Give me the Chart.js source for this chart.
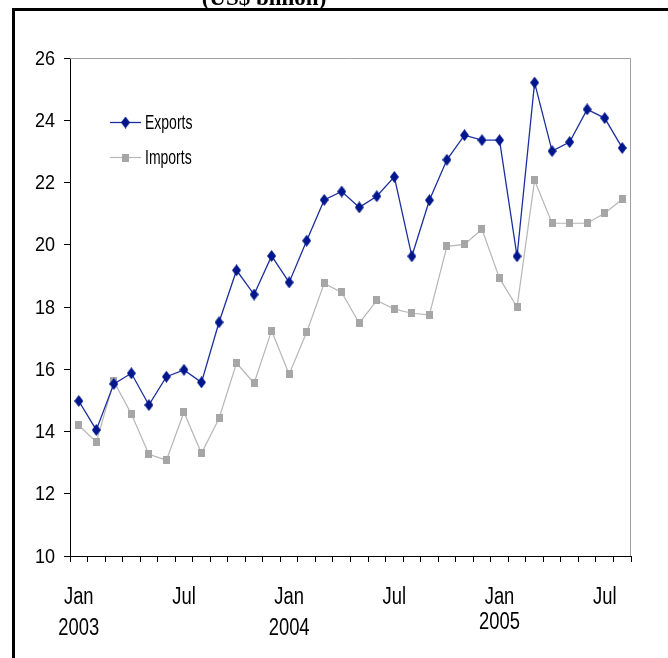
<!DOCTYPE html>
<html>
<head>
<meta charset="utf-8">
<script src="https://cdn.jsdelivr.net/npm/chart.js@4.4.1/dist/chart.umd.min.js"></script>
<style>
  html, body { margin: 0; padding: 0; background: #fff; }
  #wrap { width: 668px; height: 658px; position: relative; }
</style>
</head>
<body>
<div id="wrap"><canvas id="c" width="668" height="658"></canvas></div>
<script>
// Monthly trade, Jan 2003 – Aug 2005 (US$ billion)
const months = [
  'Jan 2003','Feb 2003','Mar 2003','Apr 2003','May 2003','Jun 2003','Jul 2003','Aug 2003',
  'Sep 2003','Oct 2003','Nov 2003','Dec 2003',
  'Jan 2004','Feb 2004','Mar 2004','Apr 2004','May 2004','Jun 2004','Jul 2004','Aug 2004',
  'Sep 2004','Oct 2004','Nov 2004','Dec 2004',
  'Jan 2005','Feb 2005','Mar 2005','Apr 2005','May 2005','Jun 2005','Jul 2005','Aug 2005'
];

const exportsVals = [
  14.98, 14.05, 15.53, 15.87, 14.85, 15.76, 15.98, 15.58,
  17.51, 19.18, 18.40, 19.64,
  18.79, 20.13, 21.44, 21.71, 21.20, 21.56, 22.18, 19.63,
  21.43, 22.73, 23.52, 23.36,
  23.36, 19.63, 25.21, 23.01, 23.30, 24.35, 24.07, 23.11
];

const importsVals = [
  14.20, 13.66, 15.61, 14.56, 13.27, 13.08, 14.62, 13.30,
  14.42, 16.20, 15.55, 17.24,
  15.84, 17.19, 18.76, 18.47, 17.48, 18.21, 17.93, 17.80,
  17.75, 19.95, 20.01, 20.50,
  18.92, 18.00, 22.07, 20.69, 20.69, 20.69, 21.01, 21.46
];

// Labels shown under the month ticks (index -> lines)
const xTickText = {
  0: ['Jan', '2003'], 6: ['Jul'],
  12: ['Jan', '2004'], 18: ['Jul'],
  24: ['Jan', '2005'], 30: ['Jul']
};
const yTicks = [10, 12, 14, 16, 18, 20, 22, 24, 26];

const seriesNames = ['Exports', 'Imports'];
const titleText = '(US$ billion)';

const NAVY = '#00168c';
const NAVY_LINE = '#1c2f9c';
const GREY = '#a6a6a6';
const GREY_LINE = '#b6b6b6';
const FONT = '"Liberation Sans", Arial, sans-serif';

function diamond(color) {
  const w = 9, h = 12;
  const c = document.createElement('canvas');
  c.width = w; c.height = h;
  const g = c.getContext('2d');
  g.fillStyle = color;
  g.beginPath();
  g.moveTo(w / 2, 0); g.lineTo(w, h / 2); g.lineTo(w / 2, h); g.lineTo(0, h / 2);
  g.closePath(); g.fill();
  return c;
}
function square(color) {
  const w = 7, h = 8;
  const c = document.createElement('canvas');
  c.width = w; c.height = h;
  const g = c.getContext('2d');
  g.fillStyle = color;
  g.fillRect(0, 0, w, h);
  return c;
}
const exportMark = diamond(NAVY);
const importMark = square(GREY);

// Text drawn with a horizontal squeeze (condensed sans look)
function squeezed(ctx, text, x, y, sx, align, size) {
  ctx.save();
  ctx.translate(x, y);
  ctx.scale(sx, 1);
  ctx.font = size + 'px ' + FONT;
  ctx.fillStyle = '#000';
  ctx.textAlign = align;
  ctx.textBaseline = 'middle';
  ctx.fillText(text, 0, 0);
  ctx.restore();
}

// Frame, title and plot border
const decor = {
  id: 'decor',
  beforeDraw(chart) {
    const ctx = chart.ctx;
    ctx.save();
    ctx.fillStyle = '#fff';
    ctx.fillRect(0, 0, chart.width, chart.height);
    ctx.fillStyle = '#000';
    ctx.font = 'bold 23px "Liberation Serif", "Times New Roman", serif';
    ctx.textAlign = 'center';
    ctx.textBaseline = 'alphabetic';
    ctx.fillText(titleText, 264, 5);
    ctx.fillStyle = '#fff';
    ctx.fillRect(0, 8, chart.width, 4);
    ctx.strokeStyle = '#000';
    ctx.lineWidth = 3;
    ctx.beginPath();
    ctx.moveTo(13.5, chart.height + 2);
    ctx.lineTo(13.5, 9.5);
    ctx.lineTo(chart.width + 2, 9.5);
    ctx.stroke();
    ctx.restore();
  },
  beforeDatasetsDraw(chart) {
    const a = chart.chartArea, ctx = chart.ctx;
    ctx.save();
    ctx.strokeStyle = '#a0a0a0';
    ctx.lineWidth = 1;
    ctx.beginPath();
    ctx.moveTo(a.left, a.top + 0.5);
    ctx.lineTo(a.right - 0.5, a.top + 0.5);
    ctx.lineTo(a.right - 0.5, a.bottom);
    ctx.stroke();
    ctx.restore();
  }
};

// Axis tick labels
const axisText = {
  id: 'axisText',
  afterDraw(chart) {
    const ctx = chart.ctx;
    const xs = chart.scales.x, ys = chart.scales.y;
    yTicks.forEach(v => {
      squeezed(ctx, String(v), 55, ys.getPixelForValue(v) + 1, 0.9, 'right', 20);
    });
    Object.keys(xTickText).forEach(k => {
      const i = Number(k);
      const px = xs.getPixelForValue(i);
      const lines = xTickText[k];
      const lift = lines[1] === '2005' ? 6 : 0;
      squeezed(ctx, lines[0], px, 598, 0.8, 'center', 23);
      if (lines[1]) squeezed(ctx, lines[1], px, 629 - lift, 0.8, 'center', 23);
    });
  }
};

// Legend drawn inside the plot area
const innerLegend = {
  id: 'innerLegend',
  afterDatasetsDraw(chart) {
    const ctx = chart.ctx;
    const rows = [122, 157];
    ctx.save();
    chart.data.datasets.forEach((ds, i) => {
      const y = rows[i];
      ctx.strokeStyle = ds.borderColor;
      ctx.lineWidth = ds.borderWidth;
      ctx.beginPath();
      ctx.moveTo(110, y + 0.5);
      ctx.lineTo(141, y + 0.5);
      ctx.stroke();
      const img = ds.pointStyle;
      ctx.drawImage(img, 125.5 - img.width / 2, y + 0.5 - img.height / 2);
      squeezed(ctx, ds.label, 145, y + 1, 0.7, 'left', 20);
    });
    ctx.restore();
  }
};

new Chart(document.getElementById('c'), {
  type: 'line',
  data: {
    labels: months,
    datasets: [
      {
        label: seriesNames[0],
        data: exportsVals,
        borderColor: NAVY_LINE,
        backgroundColor: NAVY,
        borderWidth: 1.3,
        pointStyle: exportMark,
        tension: 0
      },
      {
        label: seriesNames[1],
        data: importsVals,
        borderColor: GREY_LINE,
        backgroundColor: GREY,
        borderWidth: 1.2,
        pointStyle: importMark,
        tension: 0
      }
    ]
  },
  options: {
    responsive: false,
    animation: false,
    devicePixelRatio: 1,
    layout: { padding: { left: 0, right: 37, top: 58, bottom: 0 } },
    plugins: { legend: { display: false }, tooltip: { enabled: false }, title: { display: false } },
    scales: {
      x: {
        type: 'category',
        offset: true,
        grid: { offset: true, drawOnChartArea: false, drawTicks: true, tickLength: 6, color: '#000', lineWidth: 1 },
        border: { color: '#000', width: 1 },
        ticks: { display: false, autoSkip: false, maxRotation: 0 },
        afterFit(s) { s.height = 102; }
      },
      y: {
        min: yTicks[0],
        max: yTicks[yTicks.length - 1],
        afterBuildTicks(s) { s.ticks = yTicks.map(v => ({ value: v })); },
        grid: { drawOnChartArea: false, drawTicks: true, tickLength: 6, color: '#000' },
        border: { color: '#000', width: 1 },
        ticks: { display: false },
        afterFit(s) { s.width = 70; }
      }
    }
  },
  plugins: [decor, axisText, innerLegend]
});
</script>
</body>
</html>
